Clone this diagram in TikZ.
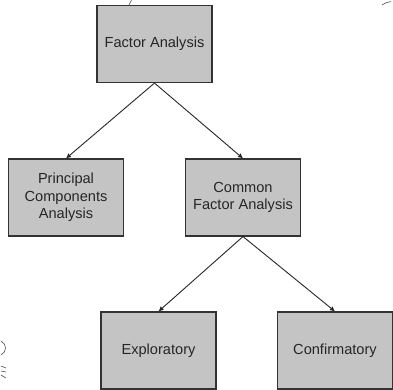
\documentclass[tikz,border=0pt]{standalone}
\usepackage{fontspec}
\setmainfont{Liberation Sans}
\usetikzlibrary{arrows.meta}

\tikzset{
  fbox/.style={draw=black!80, line width=1.1pt, fill=black!23, minimum width=115pt, minimum height=77pt, inner sep=0pt, align=center, font=\fontsize{14.6}{17.5}\selectfont, text=black!85},
  farrow/.style={draw=black!85, line width=0.9pt, -{Latex[length=5pt,width=5pt]}},
  smudge/.style={draw=black!70, line width=0.6pt}
}

\begin{document}
\begin{tikzpicture}[x=1pt, y=-1pt]
			%%%%% START %%%%%
			\useasboundingbox (0, 0) rectangle (393, 389);
			
			\node[fbox] (fa) at (154.5, 44) {Factor Analysis};
			
			\node[fbox] (pca) at (66, 197.5) {Principal\\Components\\Analysis};
			\node[fbox] (cfa) at (243, 197.5) {Common\\Factor Analysis};
			
			\node[fbox] (expl) at (158.5, 350.5) {Exploratory};
			\node[fbox] (conf) at (335, 350.5) {Confirmatory};
			
			\draw[farrow] (fa.south) -- (pca.north);
			\draw[farrow] (fa.south) -- (cfa.north);
			\draw[farrow] (cfa.south) -- (expl.north);
			\draw[farrow] (cfa.south) -- (conf.north);
			
			% scan marks at the edges
			\draw[smudge] (129, 5) -- (131.5, 0);
			\draw[smudge] (382, 5) .. controls (385, 3) .. (391, 1.5);
			\draw[smudge] (1, 341) .. controls (7, 344) and (7, 352) .. (1, 355);
			\draw[smudge] (1, 366) -- (6, 368);
			\draw[smudge] (1, 371) -- (6, 372);
			\draw[smudge] (1, 375) -- (6, 378);
			
			%%%%% END %%%%%
\end{tikzpicture}
\end{document}
